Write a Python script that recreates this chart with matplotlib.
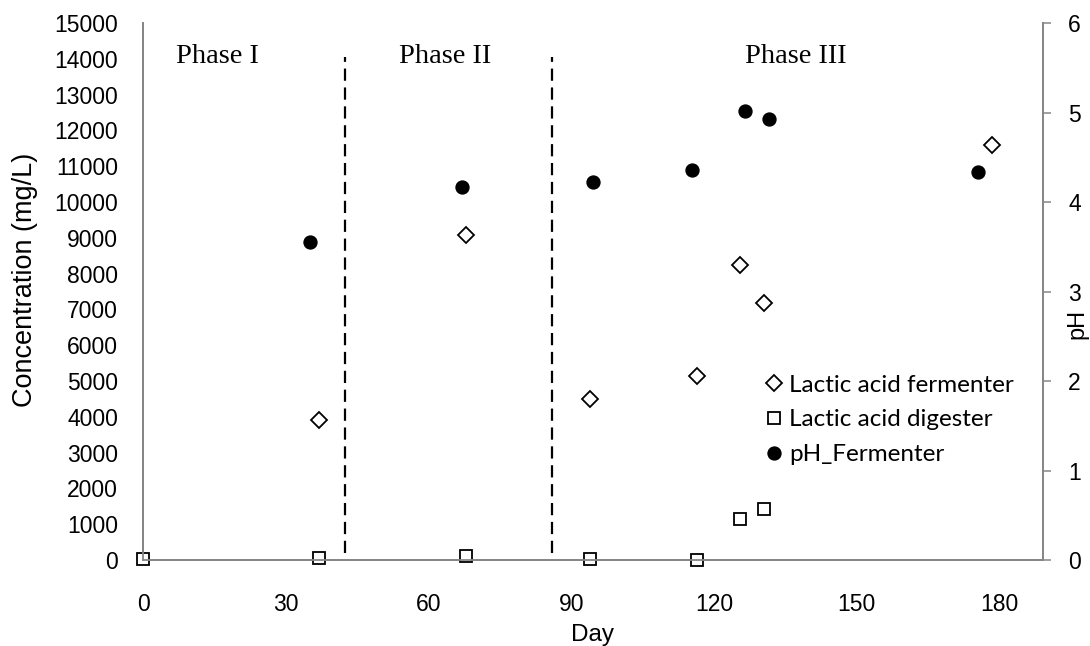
import matplotlib.pyplot as plt
from matplotlib.lines import Line2D

# lactic acid in the fermenter (mg/L)
ferm_day = [37, 68, 94, 116.5, 125.5, 130.5, 178.5]
ferm_conc = [3900, 9080, 4490, 5150, 8240, 7190, 11600]

# lactic acid in the digester (mg/L)
dig_day = [0, 37, 68, 94, 116.5, 125.5, 130.5]
dig_conc = [40, 50, 100, 20, 0, 1150, 1420]

# fermenter pH
ph_day = [35, 67, 94.5, 115.5, 126.5, 131.5, 175.5]
ph_val = [3.55, 4.17, 4.22, 4.36, 5.02, 4.93, 4.33]

phase_bounds = [42.5, 86]
phase_names = ["Phase I", "Phase II", "Phase III"]
phase_label_x = [15.6, 63.5, 137.3]

day_ticks = [0, 30, 60, 90, 120, 150, 180]
conc_ticks = list(range(0, 15001, 1000))
ph_ticks = [0, 1, 2, 3, 4, 5, 6]

axis_grey = "#868686"
sans = "Liberation Sans"

fig = plt.figure(figsize=(10.9, 6.46), dpi=100)
ax = fig.add_axes([0.1312, 0.1331, 0.8257, 0.8313])
ax2 = ax.twinx()

ax.plot(ferm_day, ferm_conc, linestyle="none", marker="D", markersize=8.3,
        markerfacecolor="white", markeredgecolor="black", markeredgewidth=1.3,
        clip_on=False, zorder=4)
ax.plot(dig_day, dig_conc, linestyle="none", marker="s", markersize=8.3,
        markerfacecolor="white", markeredgecolor="black", markeredgewidth=1.3,
        clip_on=False, zorder=4)
ax2.plot(ph_day, ph_val, linestyle="none", marker="o", markersize=9.3,
         color="black", clip_on=False, zorder=4)

# dashed phase boundaries
ax.vlines(phase_bounds, 200, 14050, colors="black", linewidth=1.6,
          linestyles=(0, (5.5, 3)))
for name, xp in zip(phase_names, phase_label_x):
    ax.text(xp, 14070, name, ha="center", va="center", fontsize=20.5,
            family="Liberation Serif")

ax.set_xlim(0, 189.2)
ax.set_ylim(0, 15000)
ax2.set_ylim(0, 6)

ax.set_xticks(day_ticks)
ax.set_yticks(conc_ticks)
ax2.set_yticks(ph_ticks)

for a in (ax, ax2):
    a.spines["top"].set_visible(False)
    for s in ("left", "right", "bottom"):
        a.spines[s].set_color(axis_grey)
        a.spines[s].set_linewidth(1.3)

ax.tick_params(axis="x", length=0, pad=24, labelsize=16.5)
ax.tick_params(axis="y", length=0, pad=18, labelsize=16.5)
ax2.tick_params(axis="y", direction="out", length=6, width=1.1,
                color=axis_grey, pad=12, labelsize=16.5)
for lbl in ax.get_xticklabels() + ax.get_yticklabels() + ax2.get_yticklabels():
    lbl.set_family(sans)

ax.set_xlabel("Day", fontsize=17.5, family=sans)
ax.xaxis.set_label_coords(0.499, -0.12)
ax.set_ylabel("Concentration (mg/L)", fontsize=19.5, family=sans)
ax.yaxis.set_label_coords(-0.117, 0.521)
ax2.set_ylabel("pH", fontsize=17, family=sans)
ax2.yaxis.set_label_coords(1.026, 0.44)

handles = [
    Line2D([], [], linestyle="none", marker="D", markersize=8.3,
           markerfacecolor="white", markeredgecolor="black", markeredgewidth=1.3),
    Line2D([], [], linestyle="none", marker="s", markersize=8.3,
           markerfacecolor="white", markeredgecolor="black", markeredgewidth=1.3),
    Line2D([], [], linestyle="none", marker="o", markersize=9.3, color="black"),
]
labels = ["Lactic acid fermenter", "Lactic acid digester", "pH_Fermenter"]
ax2.legend(handles, labels, loc="upper left", bbox_to_anchor=(767 / 1090, 1 - 374.5 / 646),
           bbox_transform=fig.transFigure, frameon=False, handlelength=0.6,
           handletextpad=0.3, labelspacing=0.57, borderpad=0, borderaxespad=0,
           prop={"family": "Lato", "size": 17.5})

fig.savefig("out.png", dpi=100)
